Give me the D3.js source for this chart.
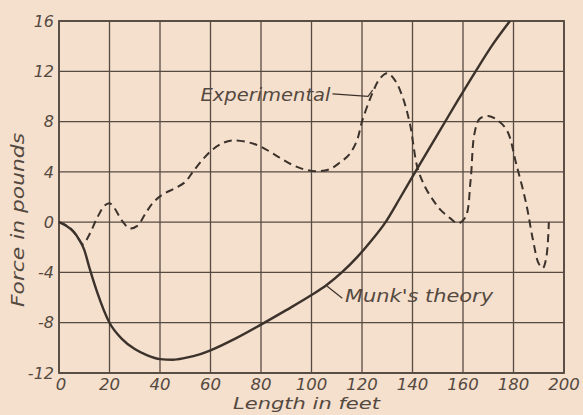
<!DOCTYPE html>
<html><head><meta charset="utf-8">
<script src="https://cdn.jsdelivr.net/npm/d3@7"></script>
<style>
html,body{margin:0;padding:0;background:#f5dfcd;}
svg{display:block;}
text{font-family:"DejaVu Sans",sans-serif;font-style:italic;fill:#54493f;}
</style></head>
<body><svg id="c" width="583" height="415"></svg>
<script>
// ---- data ----
const xTicks = [0,20,40,60,80,100,120,140,160,180,200];
const yTicks = [-12,-8,-4,0,4,8,12,16];
const xTickLabels = ["0","20","40","60","80","100","120","140","160","180","200"];
const yTickLabels = ["-12","-8","-4","0","4","8","12","16"];
const munkX = [0,3,6,8,10,12,15,20,25,30,35,40,45,50,56,60,70,80,90,100,106,112,118,124,129,135,142,150,158,165,172,178.6];
const munkY = [0,-0.3,-0.8,-1.4,-2.2,-3.6,-5.5,-8,-9.3,-10.1,-10.6,-10.9,-10.95,-10.8,-10.5,-10.2,-9.25,-8.15,-7.0,-5.8,-5.0,-4.0,-2.8,-1.4,-0.1,1.9,4.3,7.0,9.7,12.0,14.2,16];
const expX = [0,4,7,9.5,12,15,18,20,22,25,28,31,34,37,41,46,50,53,57,61,65,69,75,80,86,92,97,102,107,111,115,118,120,124,127,130,133,136,139,142,145,148,151,155,158,161,163,164.5,166.5,170,173,177.4,181,185,187.7,190,191.6,193,194];
const expY = [0,-0.4,-1.1,-1.75,-1.0,0.3,1.3,1.5,1.1,0.1,-0.5,-0.3,0.6,1.5,2.2,2.7,3.2,4.0,5.0,5.8,6.3,6.5,6.35,6.0,5.3,4.6,4.2,4.05,4.2,4.7,5.4,6.5,8,10.2,11.4,11.85,11.3,10,7.8,4.3,2.8,1.8,1.0,0.3,-0.1,0.4,3.3,7.0,8.2,8.45,8.2,7.3,4.7,1.5,-1.4,-3.3,-3.65,-2.8,0];
const seriesNames = ["Munk's theory","Experimental"];
const xTitle = "Length in feet";
const yTitle = "Force in pounds";

// ---- layout ----
const svg = d3.select("#c");
const L=59, R=564, T=21, B=373;
const x = d3.scaleLinear().domain([0,200]).range([L,R]);
const y = d3.scaleLinear().domain([-12,16]).range([B,T]);
const ink = "#3b322b", grid = "#564b42";

// grid
svg.append("g").selectAll("line").data(xTicks).join("line")
  .attr("x1",d=>x(d)).attr("x2",d=>x(d)).attr("y1",T).attr("y2",B)
  .attr("stroke",grid).attr("stroke-width",1.3);
svg.append("g").selectAll("line").data(yTicks).join("line")
  .attr("y1",d=>y(d)).attr("y2",d=>y(d)).attr("x1",L).attr("x2",R)
  .attr("stroke",grid).attr("stroke-width",1.3);
svg.append("rect").attr("x",L).attr("y",T).attr("width",R-L).attr("height",B-T)
  .attr("fill","none").attr("stroke",grid).attr("stroke-width",1.8);

// tick labels
svg.append("g").selectAll("text").data(yTicks).join("text")
  .attr("x",L-5).attr("y",d=>y(d)).attr("dy","0.36em").attr("text-anchor","end")
  .attr("font-size",16).text((d,i)=>yTickLabels[i]);
svg.append("g").selectAll("text").data(xTicks).join("text")
  .attr("x",d=>x(d)+ (d===0?2:0)).attr("y",B+12).attr("dy","0.36em").attr("text-anchor","middle")
  .attr("font-size",15).attr("textLength",d=>String(d).length*10.5).attr("lengthAdjust","spacingAndGlyphs")
  .text((d,i)=>xTickLabels[i]);

// titles
svg.append("text").attr("x",233).attr("y",409)
  .attr("font-size",15).attr("textLength",147).attr("lengthAdjust","spacingAndGlyphs").text(xTitle);
svg.append("text").attr("transform",`translate(24,307) rotate(-90)`)
  .attr("font-size",17).attr("textLength",174).attr("lengthAdjust","spacingAndGlyphs").text(yTitle);

// curves
const munk = munkX.map((v,i)=>[v,munkY[i]]);
const exp = expX.map((v,i)=>[v,expY[i]]);
const line = d3.line().x(d=>x(d[0])).y(d=>y(d[1])).curve(d3.curveCatmullRom.alpha(0.5));
const smooth = d3.line().x(d=>x(d[0])).y(d=>y(d[1])).curve(d3.curveMonotoneX);
svg.append("path").attr("d",line(exp)).attr("fill","none").attr("stroke",ink)
  .attr("stroke-width",2).attr("stroke-dasharray","8,5");
svg.append("path").attr("d",smooth(munk)).attr("fill","none").attr("stroke",ink)
  .attr("stroke-width",2.4);

// annotations
const lead = d3.line().x(d=>x(d[0])).y(d=>y(d[1]));
svg.append("path").attr("d",lead([[108.3,10.2],[122.4,10.0],[124.2,10.5]]))
  .attr("fill","none").attr("stroke",ink).attr("stroke-width",1.2);
svg.append("text").attr("x",x(107.5)).attr("y",y(9.6)).attr("text-anchor","end")
  .attr("font-size",17).attr("textLength",130).attr("lengthAdjust","spacingAndGlyphs").text(seriesNames[1]);
svg.append("path").attr("d",lead([[106.2,-5.1],[112.2,-6.05]]))
  .attr("fill","none").attr("stroke",ink).attr("stroke-width",1.2);
svg.append("text").attr("x",x(113.3)).attr("y",y(-6.35)).attr("text-anchor","start")
  .attr("font-size",17).attr("textLength",148).attr("lengthAdjust","spacingAndGlyphs").text(seriesNames[0]);
</script></body></html>
